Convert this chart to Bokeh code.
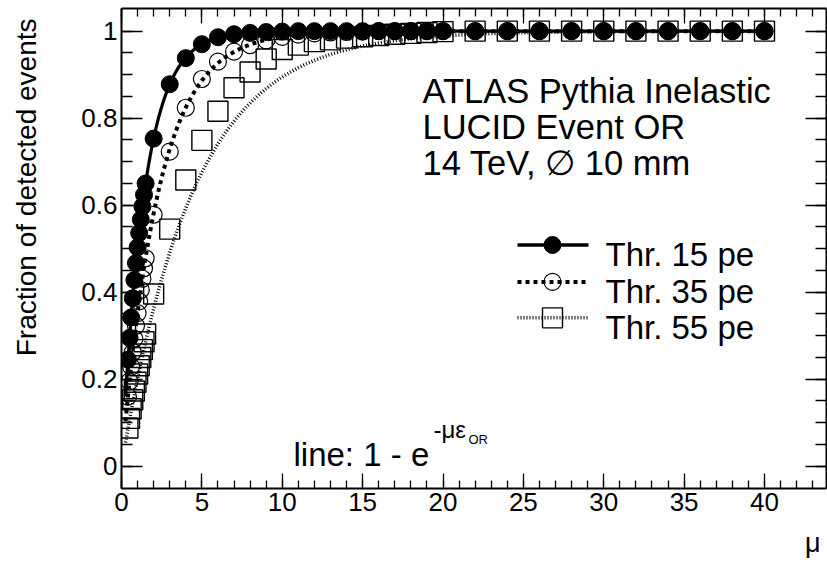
import numpy as np
from bokeh.plotting import figure
from bokeh.models import Range1d, LinearAxis, FixedTicker, NumeralTickFormatter, Label, Title
from bokeh.embed import file_html
from bokeh.resources import INLINE

# ---------------- data ----------------
mu = [0.4, 0.5, 0.6, 0.7, 0.8, 0.9, 1.0, 1.1, 1.2, 1.3, 1.4, 1.5,
      2, 3, 4, 5, 6, 7, 8, 9, 10, 11, 12, 13, 14, 15, 16, 17, 18, 19, 20,
      22, 24, 26, 28, 30, 32, 34, 36, 38, 40]

frac_thr15 = [0.245, 0.295, 0.342, 0.386, 0.428, 0.467, 0.503, 0.536, 0.567, 0.597, 0.624, 0.650,
              0.753, 0.878, 0.938, 0.970, 0.986, 0.993, 0.996, 0.998, 0.999, 1.0, 1.0, 1.0, 1.0,
              1.0, 1.0, 1.0, 1.0, 1.0, 1.0,
              1.0, 1.0, 1.0, 1.0, 1.0, 1.0, 1.0, 1.0, 1.0, 1.0]

frac_thr35 = [0.160, 0.195, 0.229, 0.262, 0.293, 0.323, 0.352, 0.379, 0.405, 0.431, 0.455, 0.478,
              0.578, 0.723, 0.824, 0.890, 0.930, 0.953, 0.968, 0.979, 0.987, 0.992, 0.995, 0.997,
              0.998, 0.999, 1.0, 1.0, 1.0, 1.0, 1.0,
              1.0, 1.0, 1.0, 1.0, 1.0, 1.0, 1.0, 1.0, 1.0, 1.0]

frac_thr55 = [0.088, 0.110, 0.132, 0.153, 0.173, 0.193, 0.212, 0.231, 0.250, 0.268, 0.286, 0.304,
              0.396, 0.545, 0.658, 0.749, 0.816, 0.870, 0.906, 0.936, 0.958, 0.968, 0.976, 0.980,
              0.984, 0.987, 0.990, 0.993, 0.995, 0.997, 0.999,
              1.0, 1.0, 1.0, 1.0, 1.0, 1.0, 1.0, 1.0, 1.0, 1.0]

# parameters of the drawn lines  1 - exp(-mu * eps_OR)
eps_or_thr15 = 0.70
eps_or_thr35 = 0.435
eps_or_thr55 = 0.225
curve_mu_min, curve_mu_max = 0.25, 40.0

series_labels = ["Thr. 15 pe", "Thr. 35 pe", "Thr. 55 pe"]
info_lines = ["ATLAS Pythia Inelastic", "LUCID Event OR", "14 TeV, \u2205 10 mm"]
x_major_ticks = [0, 5, 10, 15, 20, 25, 30, 35, 40]
y_major_ticks = [0, 0.2, 0.4, 0.6, 0.8, 1.0]
x_title = "\u03bc"
y_title = "Fraction of detected events"

# ---------------- layout helpers ----------------
W, H = 827, 569
FL, FR, FT, FB = 121, 826, 8, 489
X_PPU = 16.075
Y0_PX = 466.7
Y_PPU = 436.0
FONT = "Liberation Sans"


def dx(px):
    return (px - FL) / X_PPU


def dy(py):
    return (Y0_PX - py) / Y_PPU


p = figure(width=W, height=H, output_backend="svg", toolbar_location=None,
           x_range=Range1d(0, dx(FR)), y_range=Range1d(dy(FB), dy(FT)),
           min_border_left=FL, min_border_right=W - FR, min_border_top=FT,
           min_border_bottom=H - FB, x_axis_type=None, y_axis_type=None)
p.outline_line_color = None
p.background_fill_color = "white"
p.border_fill_color = "white"

x_minor = list(range(0, 44))
y_minor = [round(0.05 * i, 2) for i in range(0, 21)]


def make_axis(is_x, show_labels):
    ax = LinearAxis()
    if is_x:
        ax.ticker = FixedTicker(ticks=x_major_ticks, minor_ticks=x_minor)
        ax.major_tick_in, ax.minor_tick_in = 15, 8
    else:
        ax.ticker = FixedTicker(ticks=y_major_ticks, minor_ticks=y_minor)
        ax.formatter = NumeralTickFormatter(format="0.[0]")
        ax.major_tick_in, ax.minor_tick_in = 21, 11
    ax.major_tick_out = 0
    ax.minor_tick_out = 0
    ax.axis_line_width = 2
    ax.axis_line_color = "black"
    ax.major_tick_line_width = 1.3
    ax.minor_tick_line_width = 1.3
    ax.major_tick_line_color = "black"
    ax.minor_tick_line_color = "black"
    ax.major_label_text_font = FONT
    ax.major_label_text_color = "black"
    ax.major_label_text_font_size = "26px"
    if show_labels:
        ax.major_label_standoff = 4
    else:
        ticks = x_major_ticks if is_x else y_major_ticks
        ax.major_label_overrides = {t: "" for t in ticks}
        ax.major_label_standoff = 0
    return ax


p.add_layout(make_axis(True, True), "below")
p.add_layout(make_axis(False, True), "left")
p.add_layout(make_axis(True, False), "above")
p.add_layout(make_axis(False, False), "right")

# axis titles at the ends of the axes (as in the reference); the second,
# blank line of the y title keeps the title away from the tick labels
p.add_layout(Title(text=y_title + "\n\u00a0", align="right", offset=10, standoff=12,
                   text_font=FONT, text_font_style="normal", text_color="black",
                   text_font_size="28px"), "left")
p.add_layout(Title(text=x_title, align="right", offset=6, standoff=24,
                   text_font=FONT, text_font_style="normal", text_color="black",
                   text_font_size="27px"), "below")

# ---------------- curves ----------------
mu_line = np.linspace(curve_mu_min, curve_mu_max, 600)
p.line(mu_line, 1 - np.exp(-mu_line * eps_or_thr55), line_color="black",
       line_width=3.5, line_dash="1 2")
p.line(mu_line, 1 - np.exp(-mu_line * eps_or_thr35), line_color="black",
       line_width=4, line_dash="4 4")
p.line(mu_line, 1 - np.exp(-mu_line * eps_or_thr15), line_color="black",
       line_width=3.2)

# ---------------- markers ----------------
p.scatter(mu, frac_thr55, marker="square", size=20, fill_color=None,
          line_color="black", line_width=1.4)
p.scatter(mu, frac_thr35, marker="circle", size=17, fill_color=None,
          line_color="black", line_width=1.2)
p.scatter(mu, frac_thr15, marker="circle", size=17, fill_color="black",
          line_color="black", line_width=1)

# ---------------- legend (drawn by hand) ----------------
leg_rows_px = [245, 282, 318]
leg_x0, leg_x1, leg_xm, leg_tx = 517, 588, 552, 605
styles = [dict(line_width=3.5), dict(line_width=4, line_dash="4 4"),
          dict(line_width=3.5, line_dash="1 2")]
for i, (row, lab) in enumerate(zip(leg_rows_px, series_labels)):
    p.line([dx(leg_x0), dx(leg_x1)], [dy(row), dy(row)], line_color="black", **styles[i])
    if i == 0:
        p.scatter([dx(leg_xm)], [dy(row)], marker="circle", size=17,
                  fill_color="black", line_color="black")
    elif i == 1:
        p.scatter([dx(leg_xm)], [dy(row)], marker="circle", size=17,
                  fill_color=None, line_color="black", line_width=1.2)
    else:
        p.scatter([dx(leg_xm)], [dy(row)], marker="square", size=20,
                  fill_color=None, line_color="black", line_width=1.4)
    p.add_layout(Label(x=dx(leg_tx), y=dy(row + 10), text=lab, text_font=FONT,
                       text_font_size="33px", text_color="black",
                       text_baseline="alphabetic"))

# ---------------- info text ----------------
for i, t in enumerate(info_lines):
    p.add_layout(Label(x=dx(422), y=dy(91 + 36 * i), text=t, text_font=FONT,
                       text_font_size="34.5px", text_color="black",
                       text_baseline="alphabetic"))

p.add_layout(Label(x=dx(293), y=dy(455), text="line: 1 - e", text_font=FONT,
                   text_font_size="33px", text_color="black", text_baseline="alphabetic"))
p.add_layout(Label(x=dx(433), y=dy(430), text="-\u03bc\u03b5", text_font=FONT,
                   text_font_size="24px", text_color="black", text_baseline="alphabetic"))
p.add_layout(Label(x=dx(468), y=dy(440), text="OR", text_font=FONT,
                   text_font_size="13px", text_color="black", text_baseline="alphabetic"))

open("out.html", "w").write(file_html(p, INLINE))
